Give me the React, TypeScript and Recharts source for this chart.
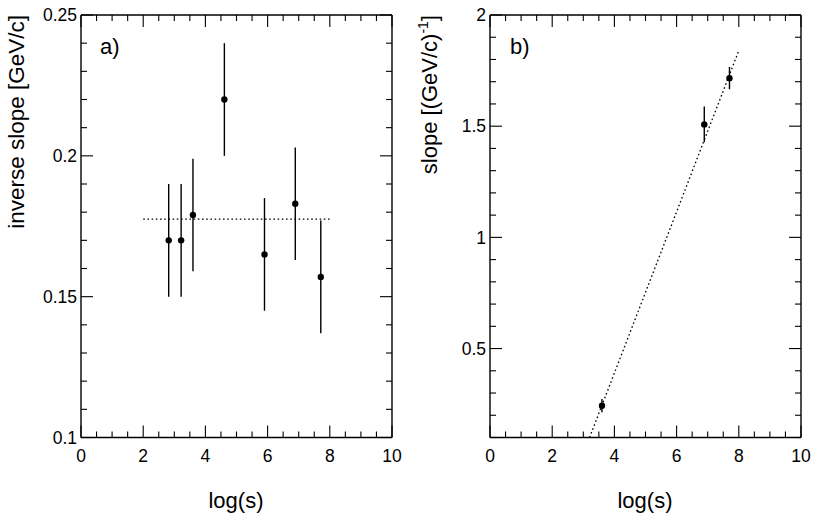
import { ComposedChart, ErrorBar, Line, Scatter, XAxis, YAxis } from "recharts";

// 左图：反斜率随 log(s)，右图：斜率随 log(s)，各带一条拟合虚线
const logS = [2.82, 3.22, 3.6, 4.61, 5.9, 6.89, 7.71];
const invSlope = [0.17, 0.17, 0.179, 0.22, 0.165, 0.183, 0.157];
const invSlopeErr = [0.02, 0.02, 0.02, 0.02, 0.02, 0.02, 0.02];
const fitAX = [2.0, 8.0];
const fitAY = [0.1775, 0.1775];

const logSB = [3.6, 6.89, 7.7];
const slope = [0.243, 1.508, 1.716];
const slopeErr = [0.03, 0.08, 0.05];
const fitBX = [3.2, 8.0];
const fitBY = [0.1, 1.84];

const xTicks = [0, 0.5, 1, 1.5, 2, 2.5, 3, 3.5, 4, 4.5, 5, 5.5, 6, 6.5, 7, 7.5, 8, 8.5, 9, 9.5, 10];
const xMajor = [0, 2, 4, 6, 8, 10];
const yTicksA = [0.1, 0.11, 0.12, 0.13, 0.14, 0.15, 0.16, 0.17, 0.18, 0.19, 0.2, 0.21, 0.22, 0.23, 0.24, 0.25];
const yMajorA = [0.1, 0.15, 0.2, 0.25];
const yTicksB = [0.1, 0.2, 0.3, 0.4, 0.5, 0.6, 0.7, 0.8, 0.9, 1, 1.1, 1.2, 1.3, 1.4, 1.5, 1.6, 1.7, 1.8, 1.9, 2];
const yMajorB = [0.5, 1, 1.5, 2];

const FONT = "'Liberation Sans', Arial, Helvetica, sans-serif";
const W = 410;
const H = 522;
// 轴区宽/高为 1（为 0 时 recharts 不画轴），外边距相应减 1
const MARGIN = { top: 14, right: 17, bottom: 83.5, left: 80 };

function isMajor(v: number, majors: number[]) {
  return majors.some((m) => Math.abs(m - v) < 1e-9);
}

// 刻度一律朝内画，主刻度 12px、次刻度 6px；只有左/下轴带数字
function tickFor(side: "bottom" | "top" | "left" | "right", majors: number[]) {
  return (props: any) => {
    const { x, y, payload } = props;
    const v = payload.value as number;
    const major = isMajor(v, majors);
    const len = major ? 12 : 6;
    let line;
    if (side === "bottom") line = <line x1={x} y1={y} x2={x} y2={y - len} stroke="#000" strokeWidth={1.1} />;
    else if (side === "top") line = <line x1={x} y1={y} x2={x} y2={y + len} stroke="#000" strokeWidth={1.1} />;
    else if (side === "left") line = <line x1={x} y1={y} x2={x + len} y2={y} stroke="#000" strokeWidth={1.1} />;
    else line = <line x1={x} y1={y} x2={x - len} y2={y} stroke="#000" strokeWidth={1.1} />;
    let label = null;
    if (major && side === "bottom") {
      label = (
        <text x={x} y={y + 24.5} textAnchor="middle" fontSize={17.5} fontFamily={FONT} fill="#000">
          {String(v)}
        </text>
      );
    } else if (major && side === "left") {
      label = (
        <text x={x - 4} y={y + 6.2} textAnchor="end" fontSize={17.5} fontFamily={FONT} fill="#000">
          {String(v)}
        </text>
      );
    }
    return (
      <g>
        {line}
        {label}
      </g>
    );
  };
}

const dot = (p: any) => <circle cx={p.cx} cy={p.cy} r={3.2} fill="#000" />;

function Panel({ pts, fit, yDomain, yTicks, yMajor }: {
  pts: Array<{ x: number; y: number; err: number }>;
  fit: Array<{ x: number; y: number }>;
  yDomain: [number, number];
  yTicks: number[];
  yMajor: number[];
}) {
  const axisLine = { stroke: "#000", strokeWidth: 1.4 };
  return (
    <ComposedChart width={W} height={H} margin={MARGIN}>
      <XAxis xAxisId="b" dataKey="x" type="number" domain={[0, 10]} ticks={xTicks} interval={0}
        orientation="bottom" height={1} tickSize={0} tickMargin={0} tickLine={false} axisLine={axisLine}
        tick={tickFor("bottom", xMajor)} allowDataOverflow />
      <XAxis xAxisId="t" dataKey="x" type="number" domain={[0, 10]} ticks={xTicks} interval={0}
        orientation="top" height={1} tickSize={0} tickMargin={0} tickLine={false} axisLine={axisLine}
        tick={tickFor("top", xMajor)} allowDataOverflow />
      <YAxis yAxisId="l" dataKey="y" type="number" domain={yDomain} ticks={yTicks} interval={0}
        orientation="left" width={1} tickSize={0} tickMargin={0} tickLine={false} axisLine={axisLine}
        tick={tickFor("left", yMajor)} allowDataOverflow />
      <YAxis yAxisId="r" dataKey="y" type="number" domain={yDomain} ticks={yTicks} interval={0}
        orientation="right" width={1} tickSize={0} tickMargin={0} tickLine={false} axisLine={axisLine}
        tick={tickFor("right", yMajor)} allowDataOverflow />
      <Line xAxisId="b" yAxisId="l" data={fit} dataKey="y" type="linear" stroke="#000" strokeWidth={1.3}
        strokeDasharray="1.6 2.6" dot={false} activeDot={false} isAnimationActive={false} />
      <Scatter xAxisId="b" yAxisId="l" data={pts} dataKey="y" shape={dot} isAnimationActive={false}>
        <ErrorBar dataKey="err" direction="y" width={0} stroke="#000" strokeWidth={1.4} isAnimationActive={false} />
      </Scatter>
    </ComposedChart>
  );
}

export default function App() {
  const ptsA = logS.map((x, i) => ({ x, y: invSlope[i], err: invSlopeErr[i] }));
  const fitA = fitAX.map((x, i) => ({ x, y: fitAY[i] }));
  const ptsB = logSB.map((x, i) => ({ x, y: slope[i], err: slopeErr[i] }));
  const fitB = fitBX.map((x, i) => ({ x, y: fitBY[i] }));
  return (
    <div style={{ position: "absolute", left: 0, top: 0, width: 817, height: 522, background: "#fff", fontFamily: FONT }}>
      <div style={{ position: "absolute", left: 0, top: 0 }}>
        <Panel pts={ptsA} fit={fitA} yDomain={[0.1, 0.25]} yTicks={yTicksA} yMajor={yMajorA} />
      </div>
      <div style={{ position: "absolute", left: 409, top: 0 }}>
        <Panel pts={ptsB} fit={fitB} yDomain={[0.1, 2]} yTicks={yTicksB} yMajor={yMajorB} />
      </div>
      <svg width={817} height={522} style={{ position: "absolute", left: 0, top: 0, pointerEvents: "none" }}>
        <text x={100} y={54} fontSize={22} fontFamily={FONT}>a)</text>
        <text x={510} y={54} fontSize={22} fontFamily={FONT}>b)</text>
        <text x={236} y={508} textAnchor="middle" fontSize={22} fontFamily={FONT}>log(s)</text>
        <text x={645} y={508} textAnchor="middle" fontSize={22} fontFamily={FONT}>log(s)</text>
        <text transform="translate(24,15) rotate(-90)" textAnchor="end" fontSize={22.5} fontFamily={FONT}>
          inverse slope [GeV/c]
        </text>
        <text transform="translate(437,15) rotate(-90)" textAnchor="end" fontSize={22} fontFamily={FONT}>
          slope [(GeV/c)<tspan fontSize={14} dy={-9}>-1</tspan><tspan dy={9}>]</tspan>
        </text>
      </svg>
    </div>
  );
}
